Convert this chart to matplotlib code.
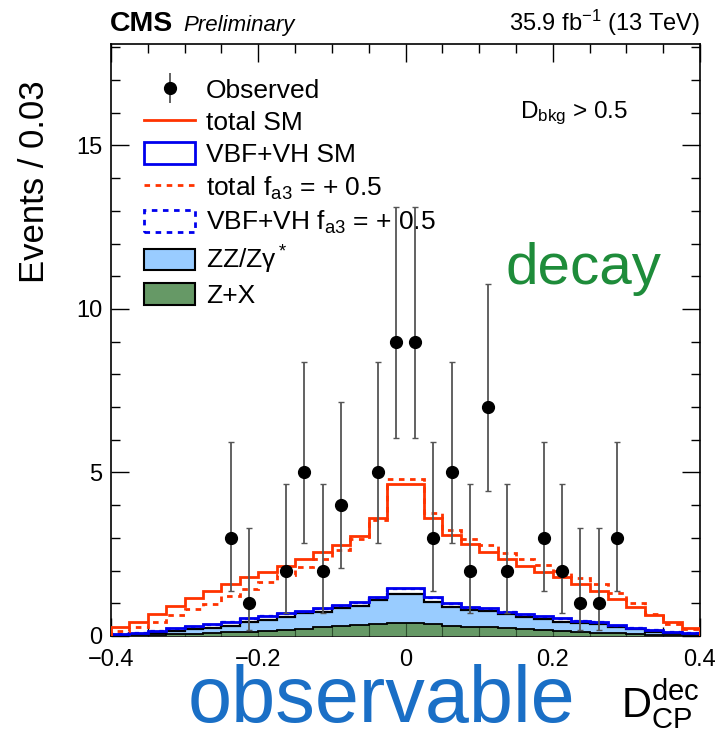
import numpy as np
import matplotlib.pyplot as plt
from matplotlib.lines import Line2D
from matplotlib.patches import Patch
from matplotlib.ticker import MultipleLocator

plt.rcParams['font.family'] = ['Liberation Sans', 'DejaVu Sans']
plt.rcParams['mathtext.fontset'] = 'custom'
plt.rcParams['mathtext.rm'] = 'Liberation Sans'
plt.rcParams['mathtext.it'] = 'Liberation Sans:italic'
plt.rcParams['mathtext.bf'] = 'Liberation Sans:bold'

# binning of D_CP^dec
bin_edges = np.linspace(-0.4, 0.4, 33)

# stacked templates (top of each stack level)
total_sm = [0.28, 0.44, 0.66, 0.92, 1.15, 1.39, 1.59, 1.79, 1.95, 2.15, 2.35, 2.56, 2.79, 3.07, 3.60, 4.65,
            4.65, 3.62, 3.09, 2.81, 2.58, 2.36, 2.15, 1.95, 1.80, 1.59, 1.39, 1.14, 0.90, 0.64, 0.43, 0.23]
total_fa3 = [0.16, 0.29, 0.42, 0.64, 0.82, 0.98, 1.22, 1.43, 1.64, 1.87, 2.10, 2.36, 2.63, 2.96, 3.55, 4.80,
             4.80, 3.76, 3.24, 2.96, 2.79, 2.55, 2.35, 2.17, 2.00, 1.77, 1.58, 1.31, 1.02, 0.66, 0.37, 0.20]
vbf_vh_sm = [0.06, 0.10, 0.15, 0.23, 0.30, 0.36, 0.44, 0.54, 0.62, 0.69, 0.76, 0.85, 0.95, 1.05, 1.20, 1.48,
             1.48, 1.20, 1.00, 0.88, 0.85, 0.74, 0.66, 0.60, 0.54, 0.47, 0.44, 0.34, 0.25, 0.18, 0.13, 0.09]
vbf_vh_fa3 = [0.05, 0.09, 0.14, 0.21, 0.28, 0.34, 0.42, 0.52, 0.60, 0.67, 0.74, 0.83, 0.92, 1.02, 1.17, 1.44,
              1.44, 1.17, 0.97, 0.86, 0.82, 0.72, 0.64, 0.58, 0.52, 0.45, 0.42, 0.32, 0.24, 0.17, 0.12, 0.08]
zz_stack = [0.03, 0.06, 0.10, 0.15, 0.20, 0.25, 0.32, 0.42, 0.49, 0.57, 0.69, 0.74, 0.85, 0.93, 1.10, 1.27,
            1.27, 1.05, 0.90, 0.80, 0.76, 0.66, 0.57, 0.51, 0.44, 0.39, 0.36, 0.29, 0.21, 0.13, 0.10, 0.07]
zx = [0.02, 0.03, 0.04, 0.06, 0.07, 0.09, 0.11, 0.13, 0.15, 0.18, 0.22, 0.26, 0.31, 0.35, 0.38, 0.41,
      0.41, 0.36, 0.32, 0.29, 0.27, 0.24, 0.21, 0.18, 0.14, 0.12, 0.10, 0.08, 0.06, 0.04, 0.03, 0.02]

# observed events (non-empty bins) with asymmetric Poisson intervals
obs_x = [-0.2375, -0.2125, -0.1625, -0.1375, -0.1125, -0.0875, -0.0375, -0.0125, 0.0125, 0.0375,
         0.0625, 0.0875, 0.1125, 0.1375, 0.1875, 0.2125, 0.2375, 0.2625, 0.2875]
obs_n = [3, 1, 2, 5, 2, 4, 5, 9, 9, 3, 5, 2, 7, 2, 3, 2, 1, 1, 3]
obs_lo = [1.37, 0.17, 0.71, 2.84, 0.71, 2.09, 2.84, 6.06, 6.06, 1.37, 2.84, 0.71, 4.42, 0.71, 1.37, 0.71, 0.17, 0.17, 1.37]
obs_hi = [5.92, 3.30, 4.64, 8.38, 4.64, 7.16, 8.38, 13.11, 13.11, 5.92, 8.38, 4.64, 10.77, 4.64, 5.92, 4.64, 3.30, 3.30, 5.92]

RED = '#ff3300'
BLUE = '#0000ee'
LIGHTBLUE = '#99ccff'
GREEN = '#669966'
ERRGREY = '#555555'

fig = plt.figure(figsize=(7.17, 7.44), dpi=100)
ax = fig.add_axes([111 / 717, 108 / 744, 589 / 717, 592 / 744])

# stack fills
ax.stairs(vbf_vh_sm, bin_edges, baseline=0, fill=True, color='white', zorder=2)
ax.stairs(zz_stack, bin_edges, baseline=0, fill=True, color=LIGHTBLUE, zorder=3)
ax.stairs(zx, bin_edges, baseline=0, fill=True, color=GREEN, zorder=4)
ax.vlines(bin_edges[2:-1:2], 0, np.array(zx)[1:-1:2], color='#2f4f2f', lw=0.8, zorder=4.5)

# outlines
ax.stairs(zx, bin_edges, color='black', lw=1.3, zorder=5)
ax.stairs(zz_stack, bin_edges, color='black', lw=1.6, zorder=5)
ax.stairs(vbf_vh_sm, bin_edges, color=BLUE, lw=2.0, zorder=6)
ax.stairs(vbf_vh_fa3, bin_edges, color=BLUE, lw=1.6, ls=(0, (2, 2)), zorder=6)
ax.stairs(total_sm, bin_edges, color=RED, lw=2.0, zorder=7)
ax.stairs(total_fa3, bin_edges, color=RED, lw=2.0, ls=(0, (2, 2)), zorder=7)

# data
yerr = [np.array(obs_n) - np.array(obs_lo), np.array(obs_hi) - np.array(obs_n)]
ax.errorbar(obs_x, obs_n, yerr=yerr, fmt='o', color='black', ms=8.5, ecolor=ERRGREY,
            elinewidth=1.3, capsize=2, capthick=1.0, zorder=9)

ax.set_xlim(-0.4, 0.4)
ax.set_ylim(0, 18.1)
ax.xaxis.set_minor_locator(MultipleLocator(0.05))
ax.yaxis.set_major_locator(MultipleLocator(5))
ax.yaxis.set_minor_locator(MultipleLocator(1))
ax.set_xticks([-0.4, -0.2, 0, 0.2, 0.4])
ax.set_xticklabels(['\u22120.4', '\u22120.2', '0', '0.2', '0.4'])
ax.tick_params(which='both', direction='in', top=True, right=True, width=1.0, labelsize=17)
ax.tick_params(which='major', length=13, pad=6)
ax.tick_params(which='minor', length=6.5)
ax.tick_params(axis='x', which='major', pad=9)
for s in ax.spines.values():
    s.set_linewidth(1.2)

# legend
obs_handle = (Line2D([], [], color=ERRGREY, marker='|', ms=22, mew=1.3, ls='none'),
              Line2D([], [], color='black', marker='o', ms=8.5, ls='none'))
handles = [
    obs_handle,
    Line2D([], [], color=RED, lw=2.0),
    Patch(facecolor='white', edgecolor=BLUE, lw=2.0),
    Line2D([], [], color=RED, lw=2.0, ls=(0, (2, 2))),
    Patch(facecolor='white', edgecolor=BLUE, lw=2.0, ls=(0, (2, 2))),
    Patch(facecolor=LIGHTBLUE, edgecolor='black', lw=1.5),
    Patch(facecolor=GREEN, edgecolor='black', lw=1.5),
]
labels = ['Observed', 'total SM', 'VBF+VH SM', r'total f$_{\rm a3}$ = + 0.5',
          r'VBF+VH f$_{\rm a3}$ = + 0.5', 'ZZ/Z\u03b3$^*$', 'Z+X']
leg = ax.legend(handles, labels, loc='upper left', bbox_to_anchor=((144 - 111) / 589, 0.943),
                frameon=False, fontsize=19, handlelength=1.95, handleheight=0.87,
                handletextpad=0.4, labelspacing=0.28, borderpad=0, borderaxespad=0)

ax.text(0.695, 0.875, r'D$_{\rm bkg}$ > 0.5', transform=ax.transAxes, fontsize=17.5)
ax.text(0.67, 0.595, 'decay', transform=ax.transAxes, fontsize=42, color='#1e8c3a')

# header
fig.text(110 / 717, 1 - 31 / 744, 'CMS', fontsize=20.5, fontweight='bold')
fig.text(183 / 717, 1 - 31 / 744, 'Preliminary', fontsize=16, style='italic')
fig.text(700 / 717, 1 - 31 / 744, r'35.9 fb$^{-1}$ (13 TeV)', fontsize=17, ha='right')

# axis titles
fig.text(35 / 717, 1 - 80 / 744, 'Events / 0.03', fontsize=25, rotation=90, ha='center', va='top')
fig.text(700 / 717, 1 - 717 / 744, r'D$_{\rm CP}^{\rm dec}$', fontsize=30, ha='right', va='baseline')
fig.text(188 / 717, 1 - 722 / 744, 'observable', fontsize=57, color='#1a6fc6', va='baseline')

fig.savefig('out.png', dpi=100)
